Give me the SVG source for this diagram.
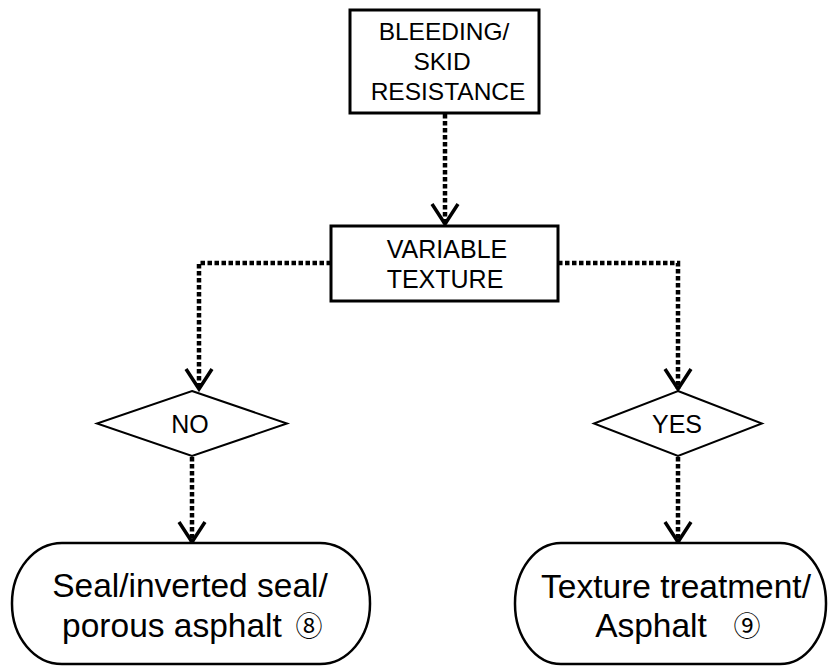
<svg xmlns="http://www.w3.org/2000/svg" width="828" height="666" viewBox="0 0 828 666">
<style>
text{font-family:"Liberation Sans",Arial,"DejaVu Sans",sans-serif;fill:#000;text-anchor:middle}
.box{fill:#fff;stroke:#000;stroke-width:3}
.dia{fill:#fff;stroke:#000;stroke-width:2}
.term{fill:#fff;stroke:#000;stroke-width:2.5}
.conn{fill:none;stroke:#000;stroke-width:4.5;stroke-dasharray:4.5 2.5}
.t22{font-size:24.5px}
.t25{font-size:25px}
.t32{font-size:33.5px}
.circ{font-family:"Noto Sans CJK JP","DejaVu Sans",sans-serif;font-size:27px}
</style>
<defs>
<marker id="arr" markerUnits="userSpaceOnUse" viewBox="-24 -16 28 32" markerWidth="28" markerHeight="32" refX="0" refY="0" orient="auto">
<path d="M-20,-13 L0,0 L-20,13" fill="none" stroke="#000" stroke-width="3.5"/>
</marker>
</defs>
<rect width="828" height="666" fill="#fff"/>
<g id="connectors">
<path class="conn" d="M445,114 V224" marker-end="url(#arr)"/>
<path class="conn" d="M331,263 H199 V389" marker-end="url(#arr)"/>
<path class="conn" d="M558,263 H678 V389" marker-end="url(#arr)"/>
<path class="conn" d="M192,457 V542" marker-end="url(#arr)"/>
<path class="conn" d="M678,457 V542" marker-end="url(#arr)"/>
</g>
<g id="bleeding">
<rect class="box" x="350" y="10" width="189" height="103"/>
<text class="t22" x="444" y="40">BLEEDING/</text>
<text class="t22" x="442" y="70">SKID</text>
<text class="t22" x="448" y="100">RESISTANCE</text>
</g>
<g id="variable">
<rect class="box" x="331" y="226" width="227" height="75"/>
<text class="t25" x="447" y="258">VARIABLE</text>
<text class="t25" x="445" y="288">TEXTURE</text>
</g>
<g id="no">
<polygon class="dia" points="192,391 287,423.5 192,456 97,423.5"/>
<text class="t25" x="190" y="433">NO</text>
</g>
<g id="yes">
<polygon class="dia" points="678,391 762,423.5 678,456 594,423.5"/>
<text class="t25" x="677" y="433">YES</text>
</g>
<g id="seal">
<rect class="term" x="12" y="543" width="358" height="121" rx="50" ry="60"/>
<text class="t32" x="190" y="597">Seal/inverted seal/</text>
<text class="t32" x="172" y="637">porous asphalt</text>
<text class="circ" x="309" y="636">⑧</text>
</g>
<g id="texture">
<rect class="term" x="515" y="543" width="311" height="121" rx="46" ry="60"/>
<text class="t32" x="676" y="598">Texture treatment/</text>
<text class="t32" x="651" y="637">Asphalt</text>
<text class="circ" x="747" y="636">⑨</text>
</g>
</svg>
